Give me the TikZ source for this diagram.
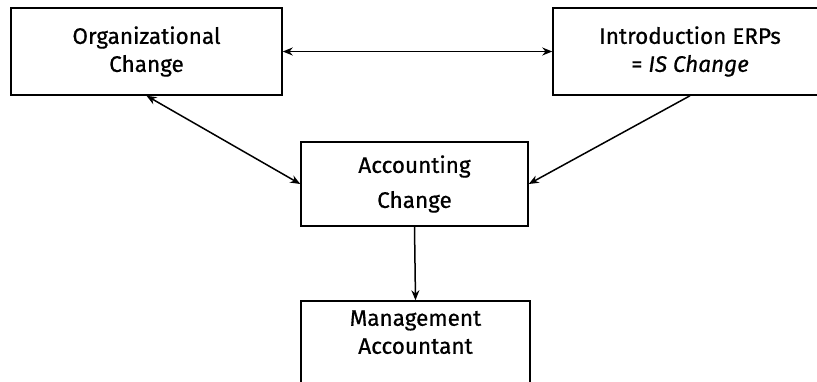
\documentclass[tikz,border=0pt]{standalone}
\usepackage{fontspec}
\setmainfont{Fira Sans}[UprightFeatures={FakeBold=0.6}, ItalicFeatures={FakeBold=0.6}]
\usetikzlibrary{arrows.meta}

\tikzset{
    changebox/.style={
        draw, line width=1.5pt, rectangle, align=center,
        font=\fontsize{22.5}{28}\selectfont, text=black
    },
    link/.style={line width=1.5pt, -{Stealth[length=10pt,width=8pt]}},
    biglink/.style={line width=1.5pt, {Stealth[length=10pt,width=8pt]}-{Stealth[length=10pt,width=8pt]}}
}

\begin{document}
\begin{tikzpicture}[x=1pt, y=-1pt]
    % ===== FRAME =====
    \clip (0,0) rectangle (817,381);
    \fill[white] (0,0) rectangle (817,381);

    % ===== BOXES =====
    \node[changebox, minimum width=271pt, minimum height=87pt] (org) at (146.5,51.5)
        {Organizational\\Change};
    \node[changebox, minimum width=274pt, minimum height=87pt] (erp) at (690,51.5)
        {Introduction ERPs\\= \textit{IS Change}};
    \node[changebox, minimum width=227pt, minimum height=84pt] (acct) at (414.5,184)
        {Accounting\\[7pt]Change};
    % text sits high in this box, bottom edge runs off the page
    \node[changebox, minimum width=229pt, minimum height=86pt, text depth=24pt] (mgmt) at (415.5,344)
        {Management\\Accountant};

    % ===== CONNECTORS =====
    \draw[biglink] (org) -- (erp);
    \draw[biglink] (org.south) -- (acct.west);
    \draw[link] (erp.south) -- (acct.east);
    \draw[link] (acct.south) -- (mgmt.north);
\end{tikzpicture}
\end{document}
